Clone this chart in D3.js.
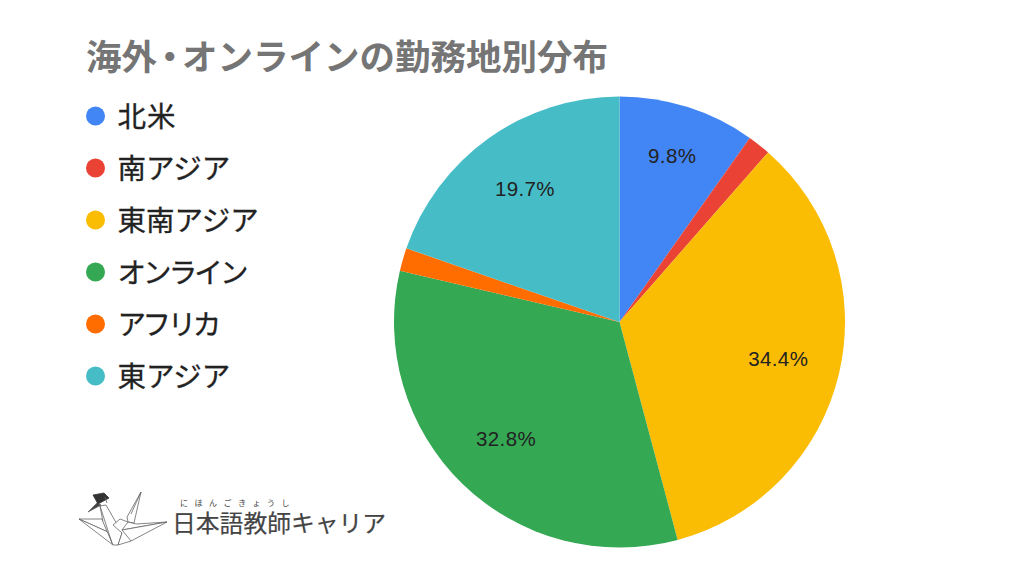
<!DOCTYPE html>
<html>
<head>
<meta charset="utf-8">
<style>
  html, body { margin: 0; background: #fff; }
  svg { display: block; }
  text { font-family: "Noto Sans CJK JP", sans-serif; }
</style>
</head>
<body>
<script src="https://d3js.org/d3.v7.min.js"></script>
<script>
var titleParts = ["海外", "・", "オンラインの勤務地別分布"];
var categories = ["北米", "南アジア", "東南アジア", "オンライン", "アフリカ", "東アジア"];
var shares = [9.8, 1.65, 34.4, 32.8, 1.65, 19.7];
var colors = ["#4285f4", "#ea4335", "#fbbc04", "#34a853", "#ff6d01", "#46bdc6"];
var logoText = "日本語教師キャリア";
var logoRuby = "にほんごきょうし";

var width = 1024, height = 576;
var cx = 619.5, cy = 322, radius = 225.5;

var svg = d3.select("body").append("svg")
  .attr("width", width)
  .attr("height", height);

var title = svg.append("text")
  .attr("x", 86)
  .attr("y", 70)
  .attr("font-size", 35.5)
  .attr("font-weight", 700)
  .attr("fill", "#757575");

// the middle dot is set tight in the original
title.selectAll("tspan")
  .data(titleParts)
  .enter().append("tspan")
  .attr("dx", function(d, i) { return i == 0 ? 0 : i == 1 ? -5 : -5.5; })
  .text(function(d) { return d; });

/* legend */
var legendY = d3.scalePoint().domain(categories).range([116, 376]);

var legend = svg.selectAll(".legend")
  .data(categories)
  .enter().append("g")
  .attr("class", "legend")
  .attr("transform", function(d) { return "translate(0," + legendY(d) + ")"; });

legend.append("circle")
  .attr("cx", 95.5)
  .attr("cy", 0)
  .attr("r", 9.5)
  .attr("fill", function(d, i) { return colors[i]; });

// katakana-only labels run tighter than the ones with kanji
legend.append("text")
  .attr("x", 117.5)
  .attr("y", 10.5)
  .attr("font-size", 28.5)
  .attr("letter-spacing", function(d) {
    if (d == "オンライン") return -2.9;
    if (d == "アフリカ") return -3.4;
    if (d == "北米") return 1;
    return 0;
  })
  .attr("fill", "#222")
  .attr("stroke", "#222")
  .attr("stroke-width", 0.3)
  .text(function(d) { return d; });

/* pie */
var pie = d3.pie().sort(null).value(function(d) { return d; });
var arc = d3.arc().innerRadius(0).outerRadius(radius);

var g = svg.append("g")
  .attr("transform", "translate(" + cx + "," + cy + ")");

var slices = pie(shares);

g.selectAll("path")
  .data(slices)
  .enter().append("path")
  .attr("d", arc)
  .attr("fill", function(d, i) { return colors[i]; });

// the small 9.8 slice has its label pushed out a bit further
function labelRadius(d) { return d.value < 15 ? 174 : 163; }

g.selectAll(".pct")
  .data(slices.filter(function(d) { return d.value > 5; }))
  .enter().append("text")
  .attr("class", "pct")
  .attr("x", function(d) { return Math.sin((d.startAngle + d.endAngle) / 2) * labelRadius(d); })
  .attr("y", function(d) { return -Math.cos((d.startAngle + d.endAngle) / 2) * labelRadius(d); })
  .attr("dy", "0.35em")
  .attr("text-anchor", "middle")
  .attr("font-size", 20.5)
  .attr("letter-spacing", 0.4)
  .style("font-family", '"Liberation Sans", Arial, sans-serif')
  .attr("fill", "#222")
  .text(function(d) { return d.value.toFixed(1) + "%"; });

/* logo: paper crane with mortarboard */
var logo = svg.append("g")
  .attr("fill", "#fff")
  .attr("stroke", "#666")
  .attr("stroke-width", 0.8)
  .attr("stroke-linejoin", "round");

// left wing
logo.append("path").attr("d", "M79 519 L102 519 L108 532 Z");
logo.append("path").attr("d", "M79 519 L108 532 L113 545 Z");
// neck
logo.append("path").attr("d", "M100 506 L106 505 L122 533 L118 545 L113 545 L103 522 Z");
logo.append("path").attr("d", "M100 506 L112 543");
// body
logo.append("path").attr("d", "M113 525 L120 519 L128 522 L134 530 L131 541 L118 545 L122 533 Z");
// tail
logo.append("path").attr("d", "M141 492 L127 517 L128 522 L134 523 Z");
logo.append("path").attr("d", "M141 492 L131 514");
// right wing
logo.append("path").attr("d", "M122 530 L167 522 L136 524 L128 522 Z");
logo.append("path").attr("d", "M122 530 L167 522 L131 541 Z");
// beak and mortarboard
logo.append("path").attr("d", "M88 512 L97 503 L101 505 Z").attr("fill", "#444");
logo.append("path").attr("d", "M93 495 L104 493 L109 498 L98 504 Z").attr("fill", "#333").attr("stroke", "#333");
logo.append("path").attr("d", "M105 497 L107 503").attr("fill", "none");

svg.append("text")
  .attr("x", 172)
  .attr("y", 532)
  .attr("font-size", 23.8)
  .attr("fill", "#444")
  .attr("stroke", "#444")
  .attr("stroke-width", 0.2)
  .text(logoText);

svg.append("text")
  .attr("x", 180)
  .attr("y", 506)
  .attr("font-size", 8)
  .attr("letter-spacing", 6.5)
  .attr("fill", "#444")
  .text(logoRuby);
</script>
</body>
</html>
